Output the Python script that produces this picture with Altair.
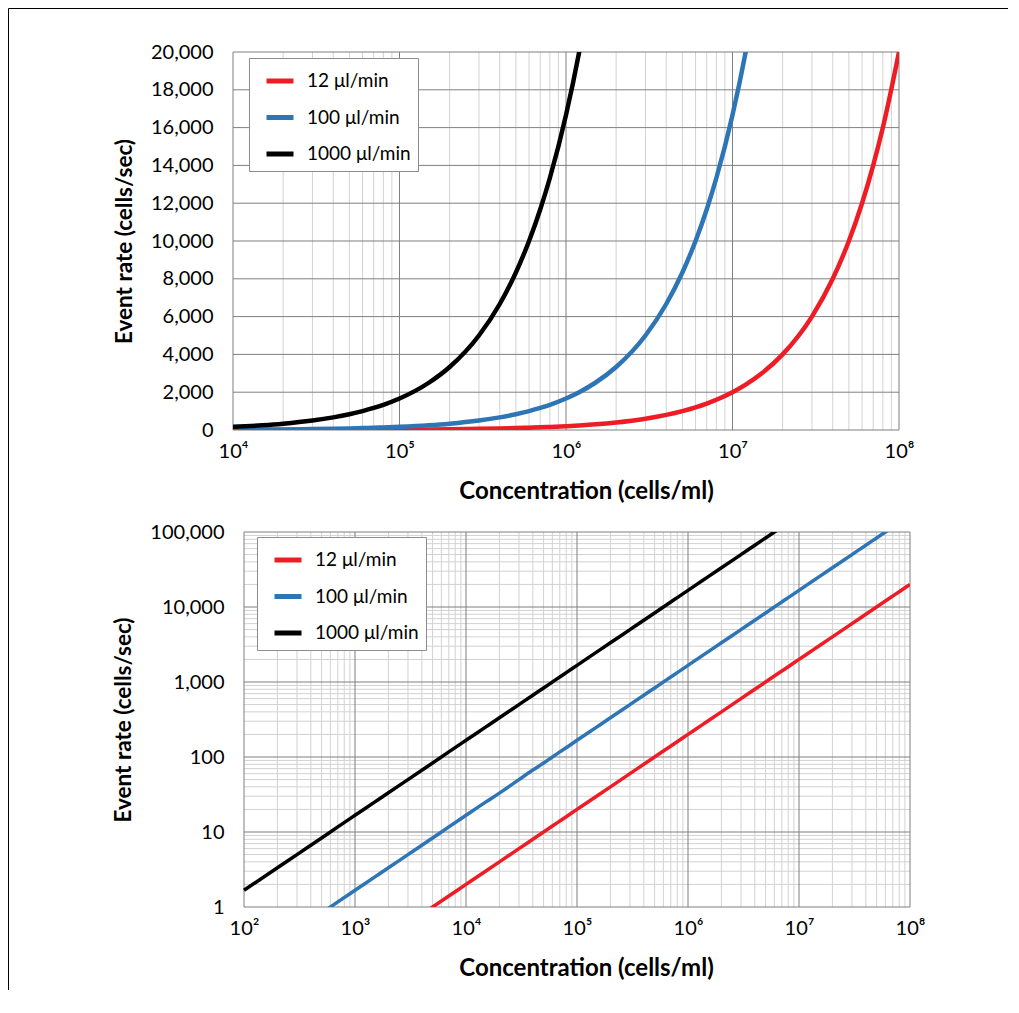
import altair as alt
import pandas as pd

# ---------------- data ----------------
series_names = ["12 μl/min", "100 μl/min", "1000 μl/min"]
series_colors = ["#EE1C25", "#2E75B6", "#000000"]

conc = [1e2, 2e2, 3e2, 5e2, 7e2, 1e3, 1.5e3, 2e3, 3e3, 5e3, 7e3,
        1e4, 1.5e4, 2e4, 3e4, 4e4, 5e4, 6e4, 7e4, 8e4,
        1e5, 1.5e5, 2e5, 3e5, 4e5, 5e5, 6e5, 7e5, 8e5,
        1e6, 1.2e6, 1.5e6, 2e6, 3e6, 4e6, 5e6, 6e6, 7e6, 8e6,
        1e7, 1.2e7, 1.5e7, 2e7, 3e7, 4e7, 5e7, 6e7, 7e7, 8e7, 1e8]

rate_12 = [0.02, 0.04, 0.06, 0.1, 0.14, 0.2, 0.3, 0.4, 0.6, 1.0, 1.4,
           2, 3, 4, 6, 8, 10, 12, 14, 16,
           20, 30, 40, 60, 80, 100, 120, 140, 160,
           200, 240, 300, 400, 600, 800, 1000, 1200, 1400, 1600,
           2000, 2400, 3000, 4000, 6000, 8000, 10000, 12000, 14000, 16000, 20000]

rate_100 = [0.17, 0.33, 0.5, 0.83, 1.17, 1.67, 2.5, 3.33, 5, 8.3, 11.7,
            16.7, 25, 33, 50, 67, 83, 100, 117, 133,
            167, 250, 333, 500, 667, 833, 1000, 1167, 1333,
            1667, 2000, 2500, 3333, 5000, 6667, 8333, 10000, 11667, 13333,
            16667, 20000, 25000, 33333, 50000, 66667, 83333, 100000, 116667, 133333, 166667]

rate_1000 = [1.67, 3.33, 5, 8.33, 11.7, 16.7, 25, 33.3, 50, 83.3, 117,
             167, 250, 333, 500, 667, 833, 1000, 1167, 1333,
             1667, 2500, 3333, 5000, 6667, 8333, 10000, 11667, 13333,
             16667, 20000, 25000, 33333, 50000, 66667, 83333, 100000, 116667, 133333,
             166667, 200000, 250000, 333333, 500000, 666667, 833333, 1000000, 1166667, 1333333, 1666667]

top_x_ticks = [1e4, 1e5, 1e6, 1e7, 1e8]
top_y_ticks = [0, 2000, 4000, 6000, 8000, 10000, 12000, 14000, 16000, 18000, 20000]
bot_x_ticks = [1e2, 1e3, 1e4, 1e5, 1e6, 1e7, 1e8]
bot_y_ticks = [1, 10, 100, 1000, 10000, 100000]

x_title = "Concentration (cells/ml)"
y_title = "Event rate (cells/sec)"

# ---------------- tables ----------------
rows = []
for name, rates in zip(series_names, [rate_12, rate_100, rate_1000]):
    for c, r in zip(conc, rates):
        rows.append({"conc": c, "rate": r, "series": name})
df = pd.DataFrame(rows)


def minors(decades):
    return [d * k for d in decades[:-1] for k in range(2, 10)]


FONT = "Lato"
MAJOR = "#7f7f7f"
MINOR = "#d2d2d2"
sup_expr = "'10' + ['⁰','¹','²','³','⁴','⁵','⁶','⁷','⁸'][round(log(datum.value)/LN10)]"


def panel(xdom, ydom, ylog, xticks, yticks, w, h, xr0, sw, lx, ly, ylabpad, frame):
    xscale = alt.Scale(type="log", domain=xdom, nice=False, range=[xr0, w])
    yscale = alt.Scale(type="log", domain=ydom, nice=False) if ylog else \
        alt.Scale(type="linear", domain=ydom, nice=False, zero=True)
    xaxis = alt.Axis(values=xticks, labelExpr=sup_expr, grid=False, domain=False, ticks=False,
                     labelPadding=11, labelFont=FONT, labelFontSize=20, labelColor="black",
                     labelFlush=False, labelOverlap=False,
                     title=x_title, titleFont=FONT, titleFontSize=24, titleFontWeight="bold",
                     titleColor="black", titlePadding=18, titleX=353)
    yaxis = alt.Axis(values=yticks, format=",d", grid=False, domain=False, ticks=False,
                     labelPadding=ylabpad, labelFont=FONT, labelFontSize=20, labelColor="black",
                     labelFlush=False, labelOverlap=False,
                     title=y_title, titleFont=FONT, titleFontSize=22.5, titleFontWeight="bold",
                     titleColor="black", titlePadding=14)

    layers = []
    vmin = pd.DataFrame({"v": minors(xticks)})
    layers.append(alt.Chart(vmin).mark_rule(color=MINOR, strokeWidth=1).encode(
        x=alt.X("v:Q", scale=xscale, axis=xaxis)))
    if ylog:
        hmin = pd.DataFrame({"v": minors(yticks)})
        layers.append(alt.Chart(hmin).mark_rule(color=MINOR, strokeWidth=1).encode(
            y=alt.Y("v:Q", scale=yscale, axis=yaxis), x=alt.value(xr0), x2=alt.value(w)))
    layers.append(alt.Chart(pd.DataFrame({"v": xticks})).mark_rule(color=MAJOR, strokeWidth=1).encode(
        x=alt.X("v:Q", scale=xscale, axis=xaxis)))
    layers.append(alt.Chart(pd.DataFrame({"v": yticks})).mark_rule(color=MAJOR, strokeWidth=1).encode(
        y=alt.Y("v:Q", scale=yscale, axis=yaxis), x=alt.value(xr0), x2=alt.value(w)))

    legend = alt.Legend(title=None, orient="none", legendX=lx, legendY=ly,
                        symbolType="stroke", symbolStrokeWidth=5, symbolSize=729,
                        labelFont=FONT, labelFontSize=19, labelColor="black", labelOffset=11,
                        padding=7, symbolOffset=8, rowPadding=10.5,
                        strokeColor="#8c8c8c", fillColor="white", labelLimit=300)
    layers.append(alt.Chart(df).mark_line(strokeWidth=sw, clip=True, interpolate="monotone").encode(
        x=alt.X("conc:Q", scale=xscale, axis=xaxis),
        y=alt.Y("rate:Q", scale=yscale, axis=yaxis),
        color=alt.Color("series:N", sort=series_names,
                        scale=alt.Scale(domain=series_names, range=series_colors),
                        legend=legend),
        order=alt.Order("conc:Q")))

    # decorative figure frame (left edge, and top edge on the first panel)
    fdf = pd.DataFrame({"k": [0]})
    fx, fy0, fy1, fx_right = frame
    if fx_right is not None:
        layers.append(alt.Chart(fdf).mark_rule(color="black", strokeWidth=1).encode(
            x=alt.value(fx), x2=alt.value(fx_right), y=alt.value(fy0)))
    layers.append(alt.Chart(fdf).mark_rule(color="black", strokeWidth=1).encode(
        x=alt.value(fx), y=alt.value(fy0), y2=alt.value(fy1)))

    return alt.layer(*layers).properties(width=w, height=h)


top = panel([1e4, 1e8], [0, 20000], False, top_x_ticks, top_y_ticks, 666, 378, 0, 4.5,
            16, 6, 20, (-224.5, -43.5, 485, 775))
bottom = panel([1e2, 1e8], [1, 100000], True, bot_x_ticks, bot_y_ticks, 677, 375, 11, 3.5,
               24, 5, 9, (-224.5, -40, 458, None))

chart = alt.concat(top, bottom, columns=1, spacing=102, bounds="flush", padding=0).resolve_scale(
    color="independent").configure_view(stroke=None)

chart.save("out.html", embed_options={"renderer": "svg", "actions": False})
